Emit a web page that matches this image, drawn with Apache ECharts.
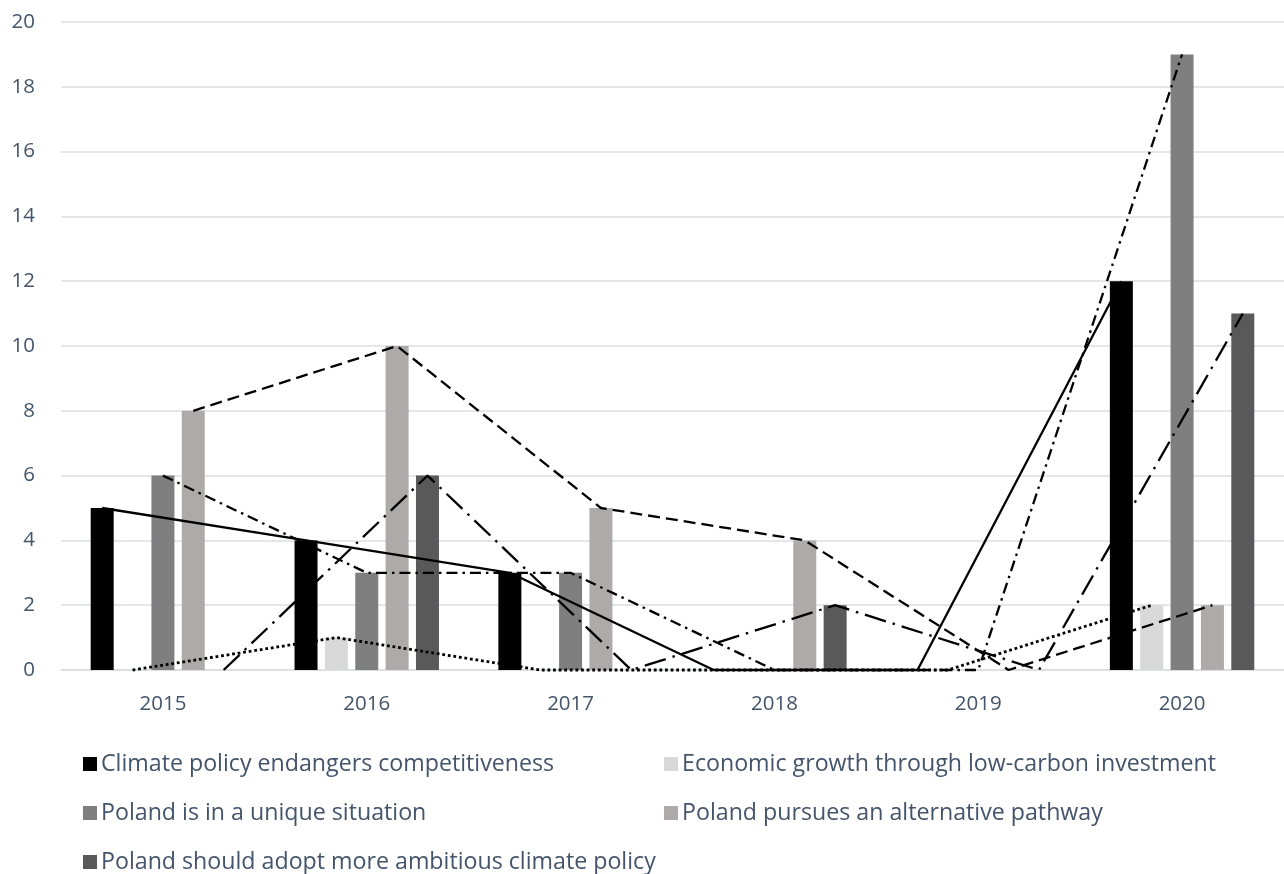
<!DOCTYPE html>
<html>
<head>
<meta charset="utf-8">
<script src="https://cdn.jsdelivr.net/npm/echarts@6/dist/echarts.min.js"></script>
<style>
  html, body { margin: 0; padding: 0; background: #ffffff; }
  #chart { width: 1284px; height: 874px; }
</style>
</head>
<body>
<div id="chart"></div>
<script>
// ---- data ----
const years = ['2015', '2016', '2017', '2018', '2019', '2020'];
const seriesNames = [
  'Climate policy endangers competitiveness',
  'Economic growth through low-carbon investment',
  'Poland is in a unique situation',
  'Poland pursues an alternative pathway',
  'Poland should adopt more ambitious climate policy'
];
const competitiveness = [5, 4, 3, 0, 0, 12];
const lowCarbonGrowth = [0, 1, 0, 0, 0, 2];
const uniqueSituation = [6, 3, 3, 0, 0, 19];
const alternativePathway = [8, 10, 5, 4, 0, 2];
const moreAmbitious = [0, 6, 0, 2, 0, 11];
const yTicks = [0, 2, 4, 6, 8, 10, 12, 14, 16, 18, 20];

// ---- styling / layout ----
const values = [competitiveness, lowCarbonGrowth, uniqueSituation, alternativePathway, moreAmbitious];
const colors = ['#000000', '#d9d9d9', '#7f7f7f', '#aeaaaa', '#595959'];
const lineTypes = ['solid', [2.8, 2.8], [11, 5, 2.5, 5], [12, 6], [22, 7, 2.5, 7]];
const lineWidths = [2.3, 2.8, 2.3, 2.3, 2.3];
const CHART_W = 1284;
const GRID_LEFT = 61, GRID_RIGHT = 0, GRID_TOP = 22, GRID_BOTTOM = 204;
const BAR_W = 23, BAR_GAP = 0.32;
const TEXT = '#44546a';
const GRIDC = '#dadee4';
const FONT = 'Open Sans';
const LEGEND_FS = 23.2, AXIS_FS = 20.5;
// legend placement: [left, top] for each series
const legendPos = [[83, 751], [664, 751], [83, 800], [664, 800], [83, 849]];

const catW = (CHART_W - GRID_LEFT - GRID_RIGHT) / years.length;
const step = BAR_W * (1 + BAR_GAP) / catW;

const series = [];
values.forEach((vals, k) => {
  series.push({
    name: seriesNames[k],
    type: 'bar',
    xAxisIndex: 0,
    yAxisIndex: 0,
    barWidth: BAR_W,
    barGap: (BAR_GAP * 100) + '%',
    itemStyle: { color: colors[k] },
    data: vals,
    z: 2
  });
});
values.forEach((vals, k) => {
  const off = (k - 2) * step;
  series.push({
    name: 'line-' + k,
    type: 'line',
    xAxisIndex: 1,
    yAxisIndex: 0,
    symbol: 'none',
    clip: false,
    silent: true,
    lineStyle: { color: '#000000', width: lineWidths[k], type: lineTypes[k], cap: 'butt' },
    data: vals.map((v, i) => [i + off, v]),
    z: 5
  });
});

const legends = seriesNames.map((n, k) => ({
  data: [n],
  orient: 'horizontal',
  left: legendPos[k][0], top: legendPos[k][1],
  itemWidth: 14, itemHeight: 14, icon: 'rect', itemGap: 0,
  padding: 0,
  textStyle: { color: TEXT, fontSize: LEGEND_FS, fontFamily: FONT, lineHeight: 26, padding: [0, 0, 0, -1] },
  selectedMode: false
}));

const chart = echarts.init(document.getElementById('chart'));
chart.setOption({
  animation: false,
  backgroundColor: '#ffffff',
  textStyle: { fontFamily: FONT },
  grid: { left: GRID_LEFT, right: GRID_RIGHT, top: GRID_TOP, bottom: GRID_BOTTOM, containLabel: false },
  legend: legends,
  xAxis: [
    {
      type: 'category',
      data: years,
      axisLine: { show: true, lineStyle: { color: GRIDC, width: 1.5 } },
      axisTick: { show: false },
      axisLabel: { color: TEXT, fontSize: AXIS_FS, fontFamily: FONT, margin: 24 },
      splitLine: { show: false }
    },
    {
      type: 'value',
      min: -0.5, max: 5.5,
      show: false
    }
  ],
  yAxis: {
    type: 'value',
    min: yTicks[0], max: yTicks[yTicks.length - 1], interval: yTicks[1] - yTicks[0],
    axisLine: { show: false },
    axisTick: { show: false },
    axisLabel: { color: TEXT, fontSize: AXIS_FS, fontFamily: FONT, margin: 26 },
    splitLine: { lineStyle: { color: GRIDC, width: 1.5 } }
  },
  series: series
});
</script>
</body>
</html>
